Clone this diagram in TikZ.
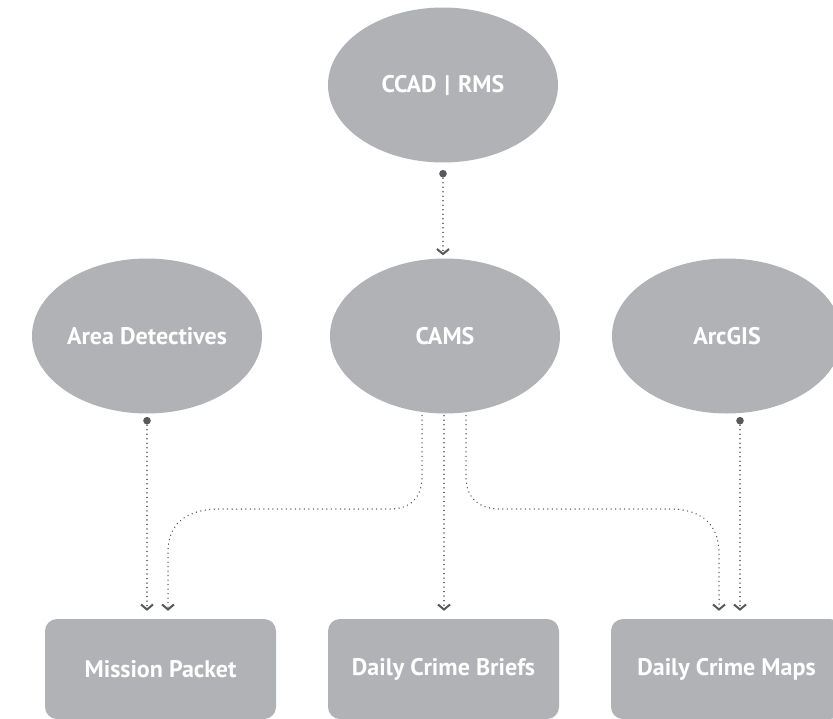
\documentclass[tikz,border=0pt]{standalone}
\usepackage{fontspec}
\setmainfont{PT Sans}
\usetikzlibrary{shapes.geometric,arrows.meta,calc}
\definecolor{boxgray}{RGB}{177,178,181}
\definecolor{ink}{RGB}{88,89,91}
\begin{document}
\begin{tikzpicture}[x=1pt,y=1pt,
  lbl/.style={text=white, font=\bfseries\fontsize{24}{28}\selectfont},
  ell/.style={ellipse, fill=boxgray, draw=none, minimum width=230pt, minimum height=155pt, inner sep=0pt, lbl},
  box/.style={rectangle, rounded corners=12pt, fill=boxgray, draw=none, minimum width=231pt, minimum height=100pt, inner sep=0pt, lbl},
  conn/.style={draw=ink, line width=1.5pt, dash pattern=on 0.01pt off 4.5pt, line cap=round, -{Straight Barb[length=5pt,width=12pt,line width=2pt,line cap=butt]}},
  startdot/.style={fill=ink, draw=none}
]
\useasboundingbox (0,0) rectangle (833,-718);
\clip (0,0) rectangle (833,-718);

\node[ell] (ccad) at (443,-85) {CCAD\,\,|\,\,RMS};
\node[ell] (area) at (147,-336) {Area Detectives};
\node[ell] (cams) at (445,-336) {CAMS};
\node[ell] (arcgis) at (727,-336) {ArcGIS};

\node[box] (mission) at (160.5,-669) {Mission Packet};
\node[box] (briefs) at (443.5,-669) {Daily Crime Briefs};
\node[box] (maps) at (726.5,-669) {Daily Crime Maps};

% start dots
\coordinate (dccad) at ($(ccad.south)+(0,-11)$);
\coordinate (darea) at ($(area.south)+(0,-7)$);
\coordinate (darc) at ($(arcgis.south)+(13,-7)$);
\fill[startdot] (dccad) circle (3.8pt);
\fill[startdot] (darea) circle (3.8pt);
\fill[startdot] (darc) circle (3.8pt);

% connectors
\draw[conn] (dccad) -- ($(cams.north)+(-2,3)$);
\draw[conn] (darea) -- ($(darea |- mission.north)+(0,8)$);
\draw[conn] (darc) -- ($(darc |- maps.north)+(0,8)$);

\draw[conn] ($(cams.south)+(-23,-2)$) -- (422,-477)
  .. controls (422,-499) and (409,-509) .. (390,-509) -- (220,-509)
  .. controls (186,-509) and (168,-524) .. (168,-552)
  -- ($(mission.north)+(7.5,8)$);
\draw[conn] ($(cams.south)+(-1,-2)$) -- ($(cams.south |- briefs.north)+(-1,8)$);
\draw[conn] ($(cams.south)+(21,-2)$) -- (466,-477)
  .. controls (466,-499) and (480,-509) .. (500,-509) -- (670,-509)
  .. controls (703,-509) and (719,-526) .. (719,-553)
  -- ($(maps.north)+(-7.5,8)$);
\end{tikzpicture}
\end{document}
